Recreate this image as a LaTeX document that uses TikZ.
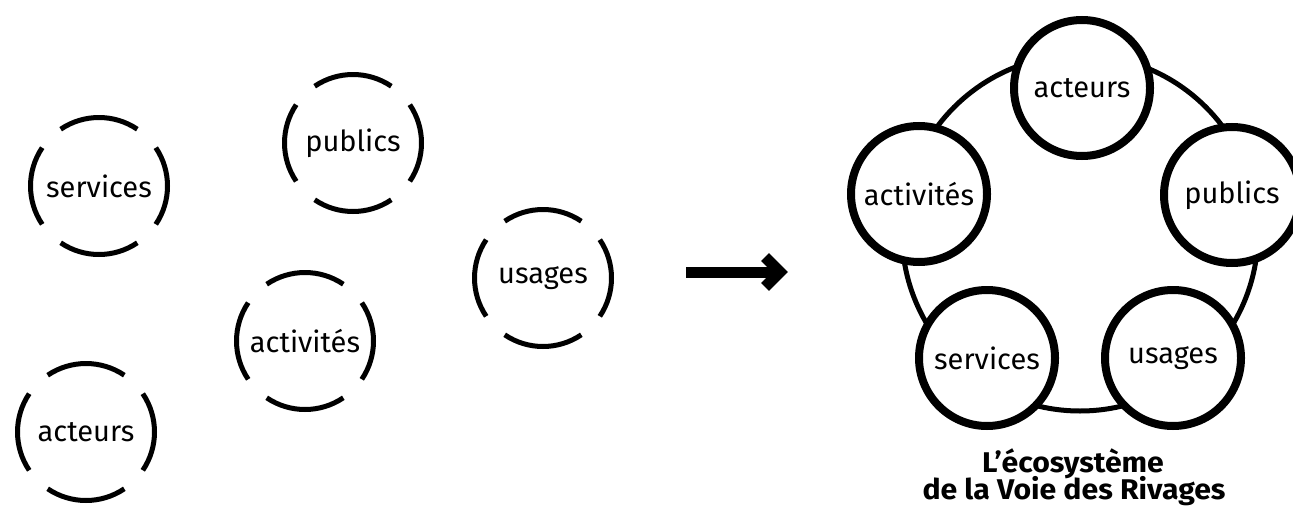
\documentclass[tikz,border=0pt]{standalone}
\usepackage{fontspec}
\setmainfont{Fira Sans}
\newfontfamily\titlefont[FakeStretch=1.06]{Fira Sans Bold}
\tikzset{
  lbl/.style={inner sep=0pt, font=\fontsize{29}{33}\selectfont},
  dashring/.style={line width=5pt, line cap=butt},
  ring/.style={circle, draw, fill=white, line width=8pt, minimum size=136pt, inner sep=0pt, font=\fontsize{29}{33}\selectfont},
  bigring/.style={line width=5pt},
  titletxt/.style={inner sep=0pt, anchor=base, font=\titlefont\fontsize{28.5}{28}\selectfont},
  arrowpart/.style={line width=11pt, line join=miter}
}
\begin{document}
\begin{tikzpicture}[x=1pt,y=-1pt]
\useasboundingbox[fill=white] (0,0) rectangle (1293,519);
% left: dashed circles
\node[lbl] (ls) at (99,186) {services};
\node[lbl] (lp) at (353,143) {publics};
\node[lbl] (lu) at (543,278) {usages};
\node[lbl] (la) at (305,341) {activités};
\node[lbl] (lc) at (86,432) {acteurs};
\foreach \n in {ls,lp,lu,la,lc}{
  \foreach \a in {0,90,180,270}{
    \draw[dashring] ([shift={(\a-34:68.5)}]\n.center) arc[start angle=\a-34, end angle=\a+34, radius=68.5];
  }
}
% arrow
\coordinate (a0) at (686,272);
\coordinate (a1) at (781,272);
\coordinate (h1) at (765,257);
\coordinate (h2) at (780,272);
\coordinate (h3) at (765,287);
\draw[arrowpart] (a0) -- (a1);
\draw[arrowpart] (h1) -- (h2) -- (h3);
% right: ecosystem
\coordinate (eco) at (1080,233);
\draw[bigring] (eco) circle[radius=178];
\node[ring] (ra) at (1082,88) {acteurs};
\node[ring] (rv) at (919,194) {activités};
\node[ring] (rp) at (1232,195) {publics};
\node[ring] (rs) at (987,358) {services};
\node[ring] (ru) at (1173,358) {usages};
\node[titletxt] (t1) at (1073,472) {L’écosystème};
\node[titletxt] (t2) at (1074,499) {de la Voie des Rivages};
\end{tikzpicture}
\end{document}
